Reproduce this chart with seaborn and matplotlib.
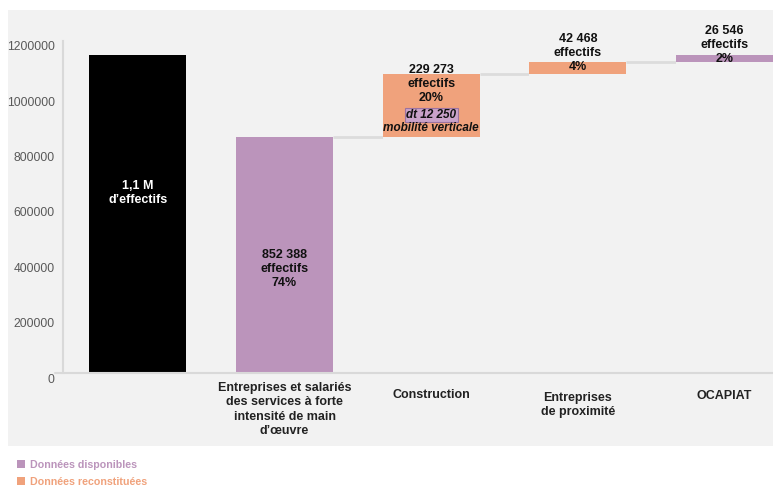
import numpy as np
import pandas as pd
import matplotlib
matplotlib.use("Agg")
import matplotlib.pyplot as plt
import matplotlib.transforms as mtransforms
from matplotlib.patches import Rectangle
import seaborn as sns

# ---------------- data ----------------
categories = ["Total", "Services", "Construction", "Proximite", "OCAPIAT"]
tick_labels = ["",
               "Entreprises et salariés\ndes services à forte\nintensité de main\nd’œuvre",
               "Construction",
               "Entreprises\nde proximité",
               "OCAPIAT"]
segment_values = [852388, 229273, 42468, 26546]
value_labels = ["852 388\neffectifs\n74%",
                "229 273\neffectifs\n20%",
                "42 468\neffectifs\n4%",
                "26 546\neffectifs\n2%"]
total_label = "1,1 M\nd’effectifs"
sub_note = "dt 12 250"
sub_note2 = "mobilité verticale"
y_ticks = [0, 200000, 400000, 600000, 800000, 1000000, 1200000]
legend_labels = ["Données disponibles", "Données reconstituées"]

# ---------------- derived waterfall ----------------
total = sum(segment_values)
heights = [total] + segment_values
bottoms = [0, 0] + list(np.cumsum(segment_values[:-1]))
tops = [b + h for b, h in zip(bottoms, heights)]

# ---------------- style ----------------
BG = "#f2f2f2"
PINK = "#bb94bb"
ORANGE = "#f0a27c"
colors = ["#000000", PINK, ORANGE, ORANGE, PINK]
FONT = ["Liberation Sans", "DejaVu Sans"]

sns.set_theme(style="white")
plt.rcParams["font.family"] = FONT

fig = plt.figure(figsize=(7.73, 4.86), dpi=100)
fig.patch.set_facecolor("white")
fig.patches.append(Rectangle((8 / 773, 40 / 486), 765 / 773, 436 / 486,
                             transform=fig.transFigure, facecolor=BG,
                             edgecolor="none", zorder=-5))

ax = fig.add_axes([63 / 773, 113 / 486, 710 / 773, 332 / 486])
ax.set_facecolor(BG)
ax.set_zorder(1)

df_top = pd.DataFrame({"cat": categories, "top": tops})
df_bot = pd.DataFrame({"cat": categories, "bottom": bottoms})
W = 0.66
sns.barplot(data=df_top, x="cat", y="top", hue="cat", palette=colors,
            order=categories, hue_order=categories, legend=False,
            width=W, dodge=False, saturation=1, ax=ax, zorder=2,
            edgecolor="none", linewidth=0)
sns.barplot(data=df_bot, x="cat", y="bottom", color=BG, order=categories,
            width=W, saturation=1, ax=ax, zorder=3,
            edgecolor="none", linewidth=0)

ax.set_xlim(-0.51, 4.33)
ax.set_ylim(0, 1200000)
ax.set_xlabel("")
ax.set_ylabel("")

# connectors
for i in range(1, 4):
    ax.hlines(tops[i], i + W / 2, i + 1 - W / 2, color="#dcdcdc", lw=2, zorder=1)

# spines / axis lines
for s in ["top", "right", "bottom"]:
    ax.spines[s].set_visible(False)
ax.spines["left"].set_color("#d9d9d9")
ax.spines["left"].set_linewidth(1.5)
ax.axhline(0, xmin=-0.011, xmax=1, color="#d9d9d9", lw=1.5, clip_on=False, zorder=4)

ax.set_yticks(y_ticks)
ax.set_yticklabels([str(t) for t in y_ticks], fontsize=8.7, color="#595959")
ax.tick_params(axis="y", length=0, pad=6)
offset = mtransforms.ScaledTranslation(0, -5 / 100, fig.dpi_scale_trans)
for lab in ax.get_yticklabels():
    lab.set_transform(lab.get_transform() + offset)

ax.set_xticks(range(len(categories)))
ax.set_xticklabels([""] * len(categories))
ax.tick_params(axis="x", length=0)

# category labels
cat_offsets = [12, 6.5, 11.5, 13.5, 12.2]
for i, lab in enumerate(tick_labels):
    if lab:
        ax.annotate(lab, xy=(i, 0), xycoords=("data", "axes fraction"),
                    xytext=(0, -cat_offsets[i]), textcoords="offset points",
                    ha="center", va="top", fontsize=9, fontweight="bold",
                    color="#222222", linespacing=1.25, annotation_clip=False)

# value annotations
txt_kw = dict(ha="center", va="center", fontsize=9, fontweight="bold", linespacing=1.2, zorder=6)
ax.text(0, 650000, total_label, color="white", **txt_kw)
label_y = [376000, 1044500, 1156600, 1185500]
for i, (lab, y) in enumerate(zip(value_labels, label_y)):
    ax.text(i + 1, y, lab, color="#111111", **txt_kw)
ax.text(2, 932500, sub_note, ha="center", va="center", fontsize=8.5,
        fontweight="bold", style="italic", color="#111111", zorder=6,
        bbox=dict(boxstyle="square,pad=0.12", facecolor="#c9a2c9",
                  edgecolor="#9c73a0", linewidth=0.8))
ax.text(2, 885500, sub_note2, ha="center", va="center", fontsize=8.5,
        fontweight="bold", style="italic", color="#111111", zorder=6)

# legend (manual)
for j, (lab, col) in enumerate(zip(legend_labels, [PINK, ORANGE])):
    ytop = 460 + j * 17
    fig.patches.append(Rectangle((17 / 773, (486 - ytop - 8) / 486), 8 / 773, 8 / 486,
                                 transform=fig.transFigure, facecolor=col,
                                 edgecolor="none"))
    fig.text(30 / 773, (486 - ytop - 4.5) / 486, lab, color=col, fontsize=7.7,
             fontweight="bold", ha="left", va="center")

fig.savefig("out.png", dpi=100, facecolor="white")
